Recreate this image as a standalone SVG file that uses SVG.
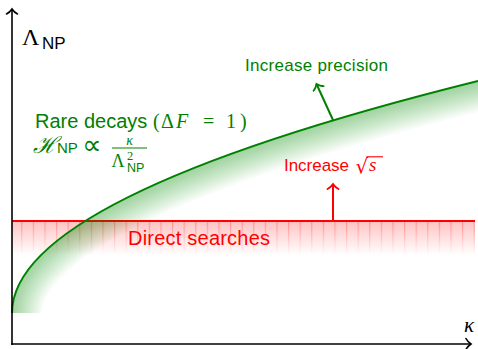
<svg xmlns="http://www.w3.org/2000/svg" width="478" height="349" viewBox="0 0 478 349">
<style>
.sans{font-family:"Liberation Sans",Arial,sans-serif}
.serif{font-family:"Liberation Serif","DejaVu Serif",serif}
.g{fill:#008000}
.r{fill:#ff0000}
.ax{stroke:#000;stroke-width:1.6;fill:none}
.sh{fill:none;stroke:#008000;stroke-opacity:0.026}
</style>
<defs>
<marker id="ahk" viewBox="-6 -7 8 14" markerWidth="8" markerHeight="14" refX="0" refY="0" orient="auto" markerUnits="userSpaceOnUse">
<path d="M-5,-5.5 C-3.5,-2.5 -1.2,-0.8 0,0 C-1.2,0.8 -3.5,2.5 -5,5.5" fill="none" stroke="#000" stroke-width="1.6" stroke-linecap="round"/>
</marker>
<marker id="ahg" viewBox="-6 -7 8 14" markerWidth="8" markerHeight="14" refX="0" refY="0" orient="auto" markerUnits="userSpaceOnUse">
<path d="M-5,-5.5 C-3.5,-2.5 -1.2,-0.8 0,0 C-1.2,0.8 -3.5,2.5 -5,5.5" fill="none" stroke="#008000" stroke-width="1.8" stroke-linecap="round"/>
</marker>
<marker id="ahr" viewBox="-6 -7 8 14" markerWidth="8" markerHeight="14" refX="0" refY="0" orient="auto" markerUnits="userSpaceOnUse">
<path d="M-5,-5.5 C-3.5,-2.5 -1.2,-0.8 0,0 C-1.2,0.8 -3.5,2.5 -5,5.5" fill="none" stroke="#ff0000" stroke-width="1.8" stroke-linecap="round"/>
</marker>
<linearGradient id="redfade" x1="0" y1="0" x2="0" y2="1">
<stop offset="0" stop-color="#ff0000" stop-opacity="0.24"/>
<stop offset="1" stop-color="#ff0000" stop-opacity="0"/>
</linearGradient>
<linearGradient id="redhatch" x1="0" y1="0" x2="0" y2="1">
<stop offset="0" stop-color="#ff0000" stop-opacity="0.28"/>
<stop offset="1" stop-color="#ff0000" stop-opacity="0"/>
</linearGradient>
<pattern id="hatch" patternUnits="userSpaceOnUse" x="21.2" y="221" width="11.6" height="34">
<rect x="0" y="0" width="1.2" height="34" fill="url(#redhatch)"/>
</pattern>
<clipPath id="below">
<path d="M12,313 Q12,197 478,81 L478,349 L12,349 Z"/>
</clipPath>
<path id="cv" d="M12,313 Q12,197 478,81 L530,68"/>
</defs>

<g id="direct-region">
<rect x="12" y="221" width="463" height="34" fill="url(#redfade)"/>
<rect x="12" y="221" width="463" height="34" fill="url(#hatch)"/>
<line x1="12" y1="221" x2="475" y2="221" stroke="#ff0000" stroke-width="2"/>
</g>

<g id="rare-region">
<g clip-path="url(#below)">
<use href="#cv" class="sh" stroke-width="60"/>
<use href="#cv" class="sh" stroke-width="56"/>
<use href="#cv" class="sh" stroke-width="52"/>
<use href="#cv" class="sh" stroke-width="48"/>
<use href="#cv" class="sh" stroke-width="44"/>
<use href="#cv" class="sh" stroke-width="40"/>
<use href="#cv" class="sh" stroke-width="36"/>
<use href="#cv" class="sh" stroke-width="32"/>
<use href="#cv" class="sh" stroke-width="28"/>
<use href="#cv" class="sh" stroke-width="24"/>
<use href="#cv" class="sh" stroke-width="20"/>
<use href="#cv" class="sh" stroke-width="16"/>
<use href="#cv" class="sh" stroke-width="12"/>
<use href="#cv" class="sh" stroke-width="8"/>
<use href="#cv" class="sh" stroke-width="4"/>
</g>
<path d="M12,313 Q12,197 478,81" fill="none" stroke="#008000" stroke-width="2"/>
</g>

<g id="connectors">
<line class="ax" x1="12" y1="345" x2="12" y2="9" marker-end="url(#ahk)"/>
<line class="ax" x1="11.2" y1="344" x2="471" y2="344" marker-end="url(#ahk)"/>
<line x1="333" y1="120" x2="316.5" y2="84" stroke="#008000" stroke-width="2" marker-end="url(#ahg)"/>
<line x1="333" y1="220" x2="333" y2="184" stroke="#ff0000" stroke-width="2" marker-end="url(#ahr)"/>
</g>

<g id="label-lambda">
<text x="22" y="45" class="serif" font-size="24">Λ</text>
<text x="42" y="49" class="sans" font-size="17">NP</text>
</g>

<g id="label-kappa">
<text x="464" y="332" class="serif" font-size="21" font-style="italic">κ</text>
</g>

<g id="label-rare" class="g">
<text x="35" y="128" class="sans" font-size="20">Rare decays</text>
<text y="128" class="serif" font-size="20"><tspan x="153">(</tspan><tspan x="161">Δ</tspan><tspan x="176" font-style="italic">F</tspan><tspan x="203">=</tspan><tspan x="226">1</tspan><tspan x="240">)</tspan></text>
<text x="33" y="153" font-family="DejaVu Serif, serif" font-size="23" font-style="italic">ℋ</text>
<text x="57" y="153" class="sans" font-size="15">NP</text>
<text x="92" y="154" font-family="DejaVu Sans, sans-serif" font-size="27" text-anchor="middle">∝</text>
<text x="129.5" y="145" class="serif" font-size="14" font-style="italic" text-anchor="middle">κ</text>
<line x1="112" y1="148" x2="147" y2="148" stroke="#008000" stroke-width="1"/>
<text x="111.5" y="167" class="serif" font-size="18">Λ</text>
<text x="127" y="159.5" class="serif" font-size="12.5">2</text>
<text x="127" y="172" class="sans" font-size="12.5">NP</text>
</g>

<g id="label-precision" class="g">
<text x="316.5" y="71" class="sans" font-size="17" text-anchor="middle" textLength="143" lengthAdjust="spacing">Increase precision</text>
</g>

<g id="label-sqrt" class="r">
<text x="284" y="171" class="sans" font-size="17" textLength="65" lengthAdjust="spacing">Increase</text>
<text x="355.5" y="173" font-family="DejaVu Sans, sans-serif" font-size="20">√</text>
<line x1="366.5" y1="156.8" x2="383" y2="156.8" stroke="#ff0000" stroke-width="1.1"/>
<text x="369" y="171" class="serif" font-size="19" font-style="italic">s</text>
</g>

<g id="label-direct" class="r">
<text x="128" y="245" class="sans" font-size="20" textLength="142" lengthAdjust="spacing">Direct searches</text>
</g>
</svg>
